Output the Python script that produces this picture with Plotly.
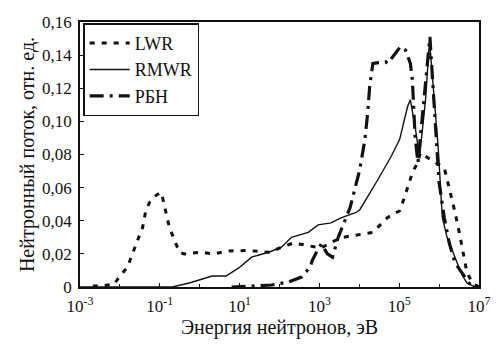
import plotly.graph_objects as go

# LWR (dashed)
lwr_logE = [-2.68, -2.5, -2.30, -2.15, -2.0, -1.81, -1.56, -1.43, -1.36, -1.26, -1.08, -0.96, -0.76, -0.51,
            -0.39, 0.0, 0.36, 0.73, 1.23, 1.73, 2.35, 2.72, 3.04, 3.3, 3.59, 3.84, 4.34, 4.71, 5.01, 5.13,
            5.26, 5.33, 5.46, 5.53, 5.78, 6.13, 6.28, 6.40, 6.53, 6.63, 6.70, 6.85, 7.0]
lwr_flux = [0.0006, 0.0006, 0.0012, 0.0015, 0.0066, 0.012, 0.028, 0.036, 0.045, 0.051, 0.0556, 0.057, 0.036, 0.021,
            0.020, 0.021, 0.020, 0.0218, 0.022, 0.021, 0.0266, 0.025, 0.0235, 0.027, 0.030, 0.031, 0.033, 0.042, 0.046, 0.054,
            0.063, 0.069, 0.075, 0.081, 0.077, 0.072, 0.057, 0.045, 0.030, 0.018, 0.0085, 0.002, 0.0]

# RMWR (solid)
rmwr_logE = [-3.0, -0.69, -0.26, 0.31, 0.66, 0.98, 1.30, 1.73, 2.05, 2.30, 2.72, 2.97, 3.29, 3.54, 3.92, 4.01,
             4.46, 4.71, 4.79, 5.01, 5.21, 5.28, 5.41, 5.51, 5.66, 5.76, 5.88, 5.98, 6.08, 6.20, 6.33, 6.45,
             6.58, 6.70, 6.90, 7.0]
rmwr_flux = [0.0, 0.0, 0.0024, 0.0066, 0.0066, 0.0115, 0.018, 0.021, 0.024, 0.030, 0.033, 0.0375, 0.0387, 0.0417, 0.045, 0.0465,
             0.0646, 0.075, 0.0785, 0.089, 0.109, 0.113, 0.095, 0.0785, 0.113, 0.149, 0.113, 0.083, 0.042, 0.030, 0.022, 0.015,
             0.007, 0.0024, 0.0, 0.0]

# РБН (thick dash-dot)
rbh_logE = [0.8, 1.30, 1.80, 2.22, 2.55, 2.77, 2.82, 2.95, 3.05, 3.2, 3.33, 3.47, 3.77, 4.01, 4.14, 4.21, 4.26,
            4.34, 4.66, 4.71, 4.89, 5.03, 5.16, 5.28, 5.33, 5.40, 5.47, 5.6, 5.77, 5.85, 5.96, 6.0, 6.13, 6.25,
            6.40, 6.58, 6.75, 6.9, 7.0]
rbh_flux = [0.0, 0.0006, 0.0012, 0.003, 0.006, 0.012, 0.016, 0.022, 0.026, 0.020, 0.018, 0.030, 0.048, 0.0707, 0.089, 0.105, 0.121,
            0.135, 0.136, 0.135, 0.141, 0.145, 0.143, 0.135, 0.125, 0.09, 0.075, 0.11, 0.151, 0.12, 0.083, 0.063, 0.042, 0.027,
            0.0145, 0.0085, 0.0024, 0.0, 0.0]

x_tickvals = [1e-3, 1e-1, 1e1, 1e3, 1e5, 1e7]
x_ticktext = ["10<sup>-3</sup>", "10<sup>-1</sup>", "10<sup>1</sup>", "10<sup>3</sup>", "10<sup>5</sup>", "10<sup>7</sup>"]
y_tickvals = [0, 0.02, 0.04, 0.06, 0.08, 0.10, 0.12, 0.14, 0.16]
y_ticktext = ["0", "0,02", "0,04", "0,06", "0,08", "0,10", "0,12", "0,14", "0,16"]

ink = "#111111"
fig = go.Figure()
fig.add_trace(go.Scatter(x=[10 ** v for v in lwr_logE], y=lwr_flux, mode="lines", name="LWR",
                         line=dict(color=ink, width=3, dash="5px,7px")))
fig.add_trace(go.Scatter(x=[10 ** v for v in rmwr_logE], y=rmwr_flux, mode="lines", name="RMWR",
                         line=dict(color=ink, width=1.4)))
fig.add_trace(go.Scatter(x=[10 ** v for v in rbh_logE], y=rbh_flux, mode="lines", name="РБН",
                         line=dict(color=ink, width=3.2, dash="14px,6px,3px,6px")))

family = "Liberation Serif, Times New Roman, serif"
fig.update_layout(
    width=503, height=355,
    margin=dict(l=80, r=21, t=22, b=68),
    paper_bgcolor="white", plot_bgcolor="white",
    font=dict(family=family, size=17, color=ink),
    showlegend=True,
    legend=dict(x=0.008, y=0.995, xanchor="left", yanchor="top",
                bordercolor=ink, borderwidth=1.5, bgcolor="white",
                font=dict(family=family, size=18, color=ink),
                tracegroupgap=0, itemwidth=40),
    xaxis=dict(type="log", range=[-3, 7], tickvals=x_tickvals, ticktext=x_ticktext,
               tickfont=dict(size=17), ticklabelstandoff=3,
               showgrid=False, zeroline=False, showline=True, linecolor=ink, linewidth=1.5, mirror=True,
               ticks="inside", ticklen=4, tickcolor=ink,
               minor=dict(tickvals=[1e-2, 1, 1e2, 1e4, 1e6], ticks="inside", ticklen=3, tickcolor=ink),
               title=dict(text="Энергия нейтронов, эВ", font=dict(size=20), standoff=4)),
    yaxis=dict(range=[0, 0.16], tickvals=y_tickvals, ticktext=y_ticktext,
               tickfont=dict(size=17), ticklabelstandoff=3,
               showgrid=False, zeroline=False, showline=True, linecolor=ink, linewidth=1.5, mirror=True,
               ticks="inside", ticklen=4, tickcolor=ink,
               title=dict(text="Нейтронный поток, отн. ед.", font=dict(size=20), standoff=2)),
)
fig.write_html("out.html")
